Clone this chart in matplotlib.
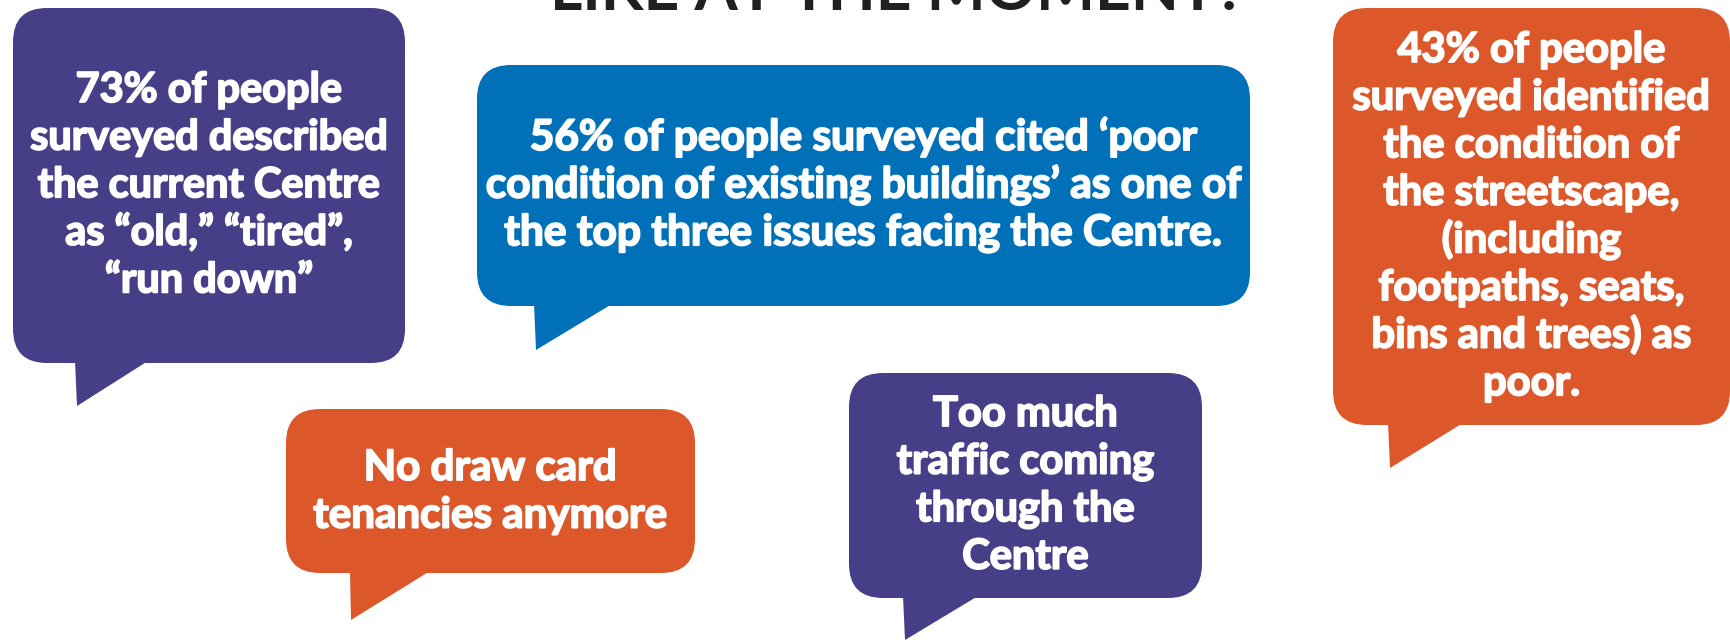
import matplotlib.pyplot as plt
import matplotlib.patheffects as pe
from matplotlib.patches import FancyBboxPatch, Polygon

# survey quotes shown in the speech bubbles
quotes = [
    ['73% of people', 'surveyed described', 'the current Centre',
     'as \u201cold,\u201d \u201ctired\u201d,', '\u201crun down\u201d'],
    ['56% of people surveyed cited \u2018poor',
     'condition of existing buildings\u2019 as one of',
     'the top three issues facing the Centre.'],
    ['43% of people', 'surveyed identified', 'the condition of',
     'the streetscape,', '(including', 'footpaths, seats,',
     'bins and trees) as', 'poor.'],
    ['No draw card', 'tenancies anymore'],
    ['Too much', 'traffic coming', 'through the', 'Centre'],
]
title = 'LIKE AT THE MOMENT?'

PURPLE = '#463f88'
BLUE = '#0070b9'
ORANGE = '#dc582b'
colors = [PURPLE, BLUE, ORANGE, ORANGE, PURPLE]

# bubble layout in pixels (left, top, right, bottom), tail and text placement
boxes = [(13, 8, 405, 363), (477, 65, 1250, 306), (1333, 8, 1730, 425),
         (286, 409, 695, 573), (849, 373, 1202, 598)]
tails = [((75, 148), (77, 406)), ((534, 612), (536, 350)),
         ((1388, 1463), (1390, 468)), ((350, 430), (351, 620)),
         ((903, 978), (905, 640))]
first_baseline = [102, 150, 62, 480, 426]
widest_px = [358, 756, 358, 354, 258]   # width of the widest line
pitch = 47.6

W, H = 1731, 640
fig = plt.figure(figsize=(W / 100, H / 100), dpi=100)
ax = fig.add_axes([0, 0, 1, 1])
ax.set_xlim(0, W)
ax.set_ylim(H, 0)
ax.axis('off')
renderer = fig.canvas.get_renderer()

font = dict(family=['Lato', 'DejaVu Sans'], fontweight='bold')
# Gill Sans Bold is heavier than Lato Bold, thicken strokes a little
heavy = [pe.withStroke(linewidth=1.3, foreground='white')]

# title, mostly cut off by the top edge
tt = ax.text(550, 10, title, ha='left', va='baseline', fontsize=40,
             color='#231f20', family=['Lato', 'DejaVu Sans'], fontweight='bold')
w = tt.get_window_extent(renderer).width
tt.set_fontsize(40 * 695 / w)

for lines, col, (l, t, r, b), ((tl, tr), tip), y0, wpx in zip(
        quotes, colors, boxes, tails, first_baseline, widest_px):
    ax.add_patch(FancyBboxPatch((l, t), r - l, b - t,
                                boxstyle='round,pad=0,rounding_size=34',
                                fc=col, ec='none'))
    ax.add_patch(Polygon([(tl, b - 2), tip, (tr, b - 2)], closed=True,
                         fc=col, ec='none'))
    cx = (l + r) / 2
    texts = [ax.text(cx, y0 + i * pitch, s, ha='center', va='baseline',
                     fontsize=26, color='white', path_effects=heavy, **font)
             for i, s in enumerate(lines)]
    widths = [x.get_window_extent(renderer).width for x in texts]
    k = wpx / max(widths)
    for x in texts:
        x.set_fontsize(26 * k)

fig.savefig('out.png', dpi=100)
